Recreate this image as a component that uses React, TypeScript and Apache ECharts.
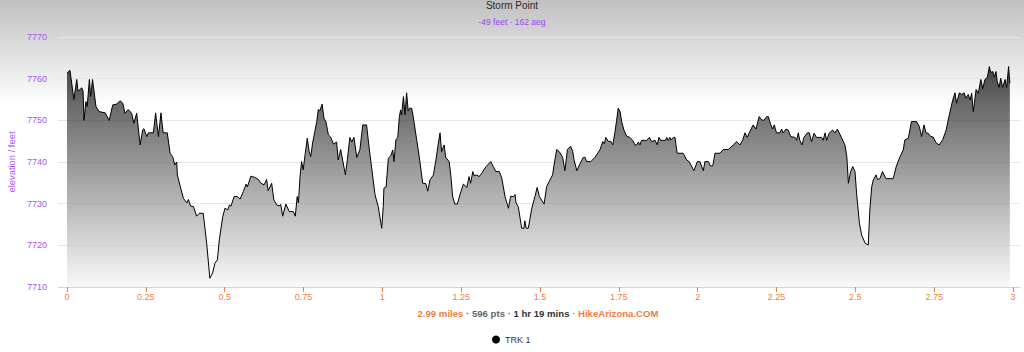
import React, { useEffect, useRef } from "react";
import * as echarts from "echarts";

const chartTitle = "Storm Point";
const chartSubtitle = "-49 feet · 162 aeg";
const yAxisName = "elevation / feet";
const seriesName = "TRK 1";
const xTickValues = [0, 0.25, 0.5, 0.75, 1, 1.25, 1.5, 1.75, 2, 2.25, 2.5, 2.75, 3];

const miles = [
  0.0, 0.0095, 0.022, 0.031, 0.035, 0.047, 0.051, 0.054, 0.06, 0.064, 0.071, 0.075, 0.081, 0.092, 0.102, 0.121,
  0.134, 0.145, 0.158, 0.168, 0.177, 0.184, 0.194, 0.205, 0.212, 0.221, 0.232, 0.24, 0.244, 0.253, 0.258, 0.274,
  0.281, 0.29, 0.298, 0.305, 0.318, 0.327, 0.335, 0.342, 0.348, 0.35, 0.358, 0.369, 0.38, 0.385, 0.392, 0.401,
  0.411, 0.42, 0.432, 0.443, 0.453, 0.462, 0.469, 0.477, 0.483, 0.494, 0.501, 0.51, 0.515, 0.52, 0.53, 0.54,
  0.549, 0.559, 0.568, 0.572, 0.583, 0.596, 0.607, 0.614, 0.625, 0.633, 0.638, 0.649, 0.656, 0.665, 0.673, 0.678,
  0.684, 0.694, 0.705, 0.718, 0.724, 0.73, 0.734, 0.739, 0.744, 0.749, 0.755, 0.762, 0.768, 0.773, 0.779, 0.786,
  0.792, 0.797, 0.802, 0.809, 0.815, 0.821, 0.829, 0.836, 0.845, 0.855, 0.86, 0.868, 0.874, 0.883, 0.889, 0.897,
  0.903, 0.91, 0.919, 0.929, 0.938, 0.95, 0.959, 0.969, 0.977, 0.987, 0.998, 1.003, 1.005, 1.012, 1.019, 1.027,
  1.033, 1.037, 1.043, 1.049, 1.054, 1.058, 1.061, 1.067, 1.072, 1.077, 1.082, 1.086, 1.093, 1.098, 1.109, 1.117,
  1.128, 1.138, 1.144, 1.151, 1.162, 1.17, 1.176, 1.183, 1.188, 1.196, 1.201, 1.212, 1.217, 1.223, 1.23, 1.238,
  1.246, 1.257, 1.268, 1.275, 1.28, 1.287, 1.291, 1.299, 1.307, 1.315, 1.329, 1.344, 1.352, 1.36, 1.371, 1.379,
  1.389, 1.4, 1.407, 1.416, 1.421, 1.424, 1.431, 1.442, 1.449, 1.452, 1.456, 1.463, 1.474, 1.484, 1.491, 1.498,
  1.505, 1.513, 1.521, 1.529, 1.54, 1.544, 1.553, 1.561, 1.572, 1.579, 1.587, 1.597, 1.604, 1.608, 1.617, 1.625,
  1.637, 1.643, 1.648, 1.661, 1.674, 1.69, 1.699, 1.704, 1.709, 1.717, 1.724, 1.731, 1.738, 1.743, 1.748, 1.754,
  1.759, 1.766, 1.775, 1.785, 1.794, 1.801, 1.807, 1.812, 1.817, 1.822, 1.838, 1.847, 1.854, 1.865, 1.872, 1.877,
  1.883, 1.891, 1.898, 1.902, 1.907, 1.912, 1.915, 1.923, 1.928, 1.935, 1.954, 1.965, 1.973, 1.988, 1.999, 2.007,
  2.018, 2.023, 2.034, 2.041, 2.048, 2.055, 2.071, 2.081, 2.097, 2.113, 2.124, 2.134, 2.143, 2.15, 2.157, 2.168,
  2.176, 2.185, 2.195, 2.203, 2.21, 2.219, 2.224, 2.232, 2.238, 2.243, 2.25, 2.261, 2.266, 2.271, 2.28, 2.287,
  2.295, 2.309, 2.314, 2.319, 2.324, 2.331, 2.337, 2.348, 2.354, 2.361, 2.369, 2.377, 2.393, 2.398, 2.404, 2.409,
  2.417, 2.428, 2.435, 2.443, 2.449, 2.457, 2.467, 2.473, 2.478, 2.485, 2.492, 2.499, 2.504, 2.513, 2.52, 2.531,
  2.541, 2.546, 2.552, 2.557, 2.566, 2.57, 2.578, 2.586, 2.597, 2.607, 2.62, 2.63, 2.642, 2.652, 2.657, 2.668,
  2.678, 2.694, 2.703, 2.71, 2.718, 2.724, 2.731, 2.739, 2.747, 2.756, 2.766, 2.777, 2.788, 2.798, 2.809, 2.816,
  2.821, 2.83, 2.837, 2.845, 2.851, 2.858, 2.864, 2.869, 2.874, 2.883, 2.89, 2.898, 2.904, 2.911, 2.919, 2.925,
  2.929, 2.936, 2.941, 2.946, 2.95, 2.956, 2.961, 2.967, 2.975, 2.98, 2.986, 2.99,
];

const elevationFt = [
  7761.3, 7762, 7755, 7759.8, 7757, 7757.8, 7757, 7750, 7754.5, 7753.3, 7759.8, 7755.7, 7759.8, 7753.3, 7752.1, 7751.8,
  7750, 7753.7, 7753.9, 7754.7, 7754.1, 7751.7, 7752.6, 7751.7, 7749.3, 7751.7, 7744.1, 7747.7, 7748, 7746.1, 7747, 7747,
  7751.8, 7746.1, 7751.8, 7747, 7747, 7742.1, 7741.3, 7739.3, 7740, 7736.9, 7734.5, 7731.3, 7730.2, 7731, 7729.4, 7729.3,
  7727, 7727.7, 7727.7, 7720.5, 7712.1, 7713.4, 7715.7, 7716.5, 7721.3, 7726.9, 7728.9, 7728.5, 7729.7, 7729.4, 7731.7, 7731.7,
  7731.1, 7732.9, 7734.7, 7734, 7736.6, 7736.3, 7735.8, 7735, 7734.5, 7735.8, 7733.1, 7734.9, 7730.9, 7729.7, 7729.5, 7729.8,
  7727, 7729.9, 7728.1, 7728.1, 7727, 7731.7, 7730.2, 7736.5, 7740.1, 7738.1, 7741.7, 7745.7, 7742.5, 7741.3, 7744.6, 7747.3,
  7749.7, 7752.6, 7752.3, 7753.9, 7750.5, 7749.7, 7746.5, 7746, 7744.3, 7744.8, 7740.5, 7743, 7740.5, 7736.9, 7740.5, 7745.9,
  7744.8, 7745.9, 7741.1, 7743, 7748.9, 7748.9, 7742.9, 7736.9, 7732.1, 7729.3, 7724.1, 7729.3, 7733.7, 7734, 7740.9, 7741.5,
  7742.9, 7740.1, 7745.3, 7745.9, 7750.9, 7752.5, 7751.3, 7755.7, 7751.3, 7756.6, 7752.3, 7752.9, 7752.9, 7750.9, 7745.3, 7741.3,
  7734.9, 7734.8, 7733, 7735.7, 7736.9, 7740.5, 7743.7, 7747, 7742.5, 7744.1, 7741.1, 7740.1, 7736.9, 7731.7, 7729.9, 7729.9,
  7732.1, 7734.7, 7733.9, 7736.5, 7734.9, 7737.7, 7736.7, 7736.9, 7736.5, 7737.3, 7738.9, 7740.1, 7738.9, 7737.7, 7737.7, 7736.1,
  7731.7, 7728.9, 7731.8, 7731.7, 7732.2, 7730.2, 7729.3, 7724.1, 7724.1, 7725.9, 7724.1, 7724.1, 7728.9, 7731.7, 7733.9, 7731.7,
  7730.9, 7729.9, 7734.1, 7735.3, 7736.9, 7739, 7743, 7742.5, 7741.1, 7737.9, 7743, 7743.8, 7742.5, 7740.5, 7737.9, 7739.3,
  7741.1, 7741.1, 7740.1, 7740.1, 7741.1, 7742.9, 7744.9, 7744.4, 7745.9, 7744.9, 7745, 7744.1, 7747.3, 7750, 7752.9, 7752.1,
  7749.7, 7747.7, 7746.2, 7745.9, 7745.2, 7744.1, 7744.1, 7744.8, 7744.1, 7745.2, 7745.2, 7745.9, 7744.9, 7745.2, 7744.1, 7745.9,
  7745.2, 7745.2, 7745.2, 7745.9, 7745.2, 7745.9, 7745.3, 7745.9, 7745.9, 7742.1, 7742.1, 7740.5, 7740.1, 7737.9, 7740.1, 7740.1,
  7737.9, 7740.1, 7740.1, 7739, 7739.1, 7742.1, 7742.1, 7743, 7743, 7744.1, 7744.9, 7744.1, 7745.3, 7747, 7745.9, 7747.7,
  7748.9, 7747.9, 7750.9, 7750.1, 7750, 7750.9, 7750.9, 7748.9, 7747.9, 7748.9, 7747, 7747, 7747.9, 7747, 7747.9, 7747.7,
  7746.1, 7745.9, 7745.2, 7747, 7745.2, 7744.1, 7745.9, 7747, 7747, 7744.9, 7746.9, 7745.9, 7745.9, 7745.2, 7747, 7745.2,
  7746.9, 7747.7, 7747, 7747.9, 7747, 7745.7, 7744.1, 7741.3, 7734.9, 7737.7, 7738.9, 7737.7, 7732.5, 7725.3, 7722.5, 7720.5,
  7720.1, 7728.5, 7734.1, 7735.7, 7736.9, 7735.8, 7736, 7737.7, 7736, 7736, 7736, 7739, 7741.3, 7742.9, 7745.3, 7745.7,
  7749.7, 7749.7, 7748.5, 7746.1, 7748.9, 7747, 7746.9, 7746.1, 7746, 7744.6, 7744.1, 7745.3, 7747.7, 7751.3, 7754.9, 7756.6,
  7754.1, 7756.6, 7756.2, 7756.6, 7755.3, 7756.2, 7754.9, 7756.5, 7752.1, 7757.4, 7756.5, 7759.8, 7757.6, 7759.8, 7760.4, 7762.9,
  7761.5, 7761.7, 7760.4, 7761.7, 7759.3, 7757.9, 7760.1, 7757.9, 7759.8, 7757.9, 7762.9, 7758.9,
];

const footerParts = {
  distance: "2.99 miles",
  points: "596 pts",
  duration: "1 hr 19 mins",
  site: "HikeArizona.COM",
};

const FONT = "'Liberation Sans', Arial, sans-serif";
const PURPLE = "#a356f2";
const ORANGE = "#f0803c";

export default function App() {
  const ref = useRef<HTMLDivElement>(null);

  useEffect(() => {
    if (!ref.current) return;
    const chart = echarts.init(ref.current, undefined, { renderer: "svg" });
    const data = miles.map((m, i) => [m, elevationFt[i]]);

    chart.setOption({
      animation: false,
      backgroundColor: new echarts.graphic.LinearGradient(0, 0, 0, 1, [
        { offset: 0, color: "#c0c0c0" },
        { offset: 0.3, color: "#ffffff" },
        { offset: 1, color: "#ffffff" },
      ]),
      textStyle: { fontFamily: FONT },
      title: [
        {
          text: chartTitle,
          left: "center",
          top: 0,
          padding: 0,
          textStyle: { fontFamily: FONT, fontSize: 10, fontWeight: "normal", color: "#2a2a2a" },
        },
        {
          text: chartSubtitle,
          left: "center",
          top: 17,
          padding: 0,
          textStyle: { fontFamily: FONT, fontSize: 8.5, fontWeight: "normal", color: "#9b45f5" },
        },
        {
          text:
            "{o|" + footerParts.distance + "}{g| · " + footerParts.points + " · }{b|" + footerParts.duration +
            "}{o| · " + footerParts.site + "}",
          left: 538,
          textAlign: "center",
          top: 308,
          padding: 0,
          textStyle: {
            fontFamily: FONT,
            fontSize: 9.6,
            rich: {
              o: { fontFamily: FONT, fontSize: 9.6, color: ORANGE },
              g: { fontFamily: FONT, fontSize: 9.6, color: "#666666" },
              b: { fontFamily: FONT, fontSize: 9.6, color: "#333333", fontWeight: "bold" },
            },
          },
        },
      ],
      legend: {
        top: 335,
        left: 492,
        padding: 0,
        icon: "circle",
        itemWidth: 8,
        itemHeight: 8,
        itemGap: 6,
        textStyle: { fontFamily: FONT, fontSize: 9, color: "#333333" },
        data: [{ name: seriesName, itemStyle: { color: "#000000" } }],
      },
      grid: { left: 58, right: 4, top: 37, bottom: 65, containLabel: false, outerBoundsMode: "none" },
      xAxis: {
        type: "value",
        min: -0.0285,
        max: 3.0222,
        axisLine: { show: true, lineStyle: { color: "#ccd6eb", width: 1 } },
        axisTick: {
          show: true,
          customValues: xTickValues,
          length: 5,
          lineStyle: { color: ORANGE, width: 1 },
        },
        axisLabel: {
          customValues: xTickValues,
          color: ORANGE,
          fontFamily: FONT,
          fontSize: 9,
          margin: 5,
          formatter: (v: number) => String(v),
        },
        splitLine: { show: false },
      },
      yAxis: {
        type: "value",
        min: 7710,
        max: 7770,
        interval: 10,
        name: yAxisName,
        nameLocation: "middle",
        nameGap: 36,
        nameTextStyle: { color: PURPLE, fontFamily: FONT, fontSize: 9.4 },
        axisLine: { show: false },
        axisTick: { show: false },
        axisLabel: {
          color: PURPLE,
          fontFamily: FONT,
          fontSize: 9,
          margin: 11,
          formatter: (v: number) => String(v),
        },
        splitLine: { show: true, lineStyle: { color: "#e6e6e6", width: 1 } },
      },
      series: [
        {
          name: seriesName,
          type: "line",
          data,
          showSymbol: false,
          symbol: "none",
          lineStyle: { color: "#000000", width: 1 },
          itemStyle: { color: "#000000" },
          areaStyle: {
            origin: "start",
            color: new echarts.graphic.LinearGradient(0, 0, 0, 1, [
              { offset: 0, color: "#000000" },
              { offset: 1, color: "#f6f6f6" },
            ]),
          },
        },
      ],
    });

    return () => chart.dispose();
  }, []);

  return (
    <div
      ref={ref}
      style={{ position: "fixed", left: 0, top: 0, width: 1024, height: 352 }}
    />
  );
}
